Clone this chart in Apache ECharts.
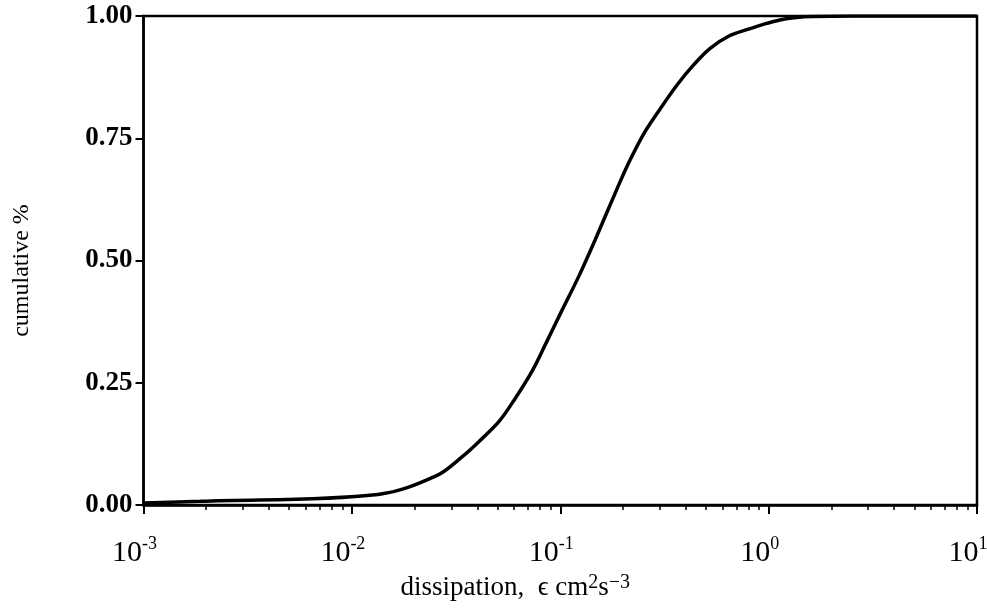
<!DOCTYPE html>
<html>
<head>
<meta charset="utf-8">
<script src="https://cdn.jsdelivr.net/npm/echarts@6/dist/echarts.min.js"></script>
<style>
  html, body { margin: 0; padding: 0; background: #fff; }
  #chart { width: 987px; height: 610px; }
</style>
</head>
<body>
<div id="chart"></div>
<script>
// dissipation (cm^2 s^-3)
const dissipation = [0.001, 0.00187, 0.01334, 0.0255, 0.0341, 0.041, 0.0511, 0.0612, 0.0735, 0.085, 0.1019,
  0.1222, 0.1466, 0.1888, 0.2104, 0.2523, 0.3027, 0.3635, 0.4365, 0.524, 0.652, 0.784, 0.943, 1.132, 1.36, 1.63, 2.5, 10]
const cumulative = [0.004, 0.0076, 0.0217, 0.06, 0.1, 0.131, 0.172, 0.22, 0.275, 0.329, 0.398,
  0.466, 0.541, 0.65, 0.695, 0.76, 0.811, 0.859, 0.9, 0.934, 0.96, 0.972, 0.983, 0.992, 0.997, 0.999, 1.0, 1.0]

const majorTicks = [0.001, 0.01, 0.1, 1, 10]
const minorTicks = [
  0.002, 0.003, 0.004, 0.005, 0.006, 0.007, 0.008, 0.009,
  0.02, 0.03, 0.04, 0.05, 0.06, 0.07, 0.08, 0.09,
  0.2, 0.3, 0.4, 0.5, 0.6, 0.7, 0.8, 0.9,
  2, 3, 4, 5, 6, 7, 8, 9
]
const yTicks = [0, 0.25, 0.5, 0.75, 1]

const serif = 'Liberation Serif, DejaVu Serif, serif'

const chart = echarts.init(document.getElementById('chart'))

const option = {
  animation: false,
  backgroundColor: '#fff',
  grid: {
    left: 143.5,
    right: 10,
    top: 16,
    bottom: 105,
    outerBoundsMode: 'none',
    containLabel: false,
    show: true,
    borderColor: '#000',
    borderWidth: 2.5,
  },
  xAxis: [
    {
      type: 'log',
      logBase: 10,
      min: 0.001,
      max: 10,
      position: 'bottom',
      axisLine: { show: true, lineStyle: { color: '#000', width: 2.5 } },
      axisTick: { show: true, customValues: majorTicks, length: 9, lineStyle: { color: '#000', width: 2 } },
      splitLine: { show: false },
      axisLabel: {
        customValues: majorTicks,
        margin: 30,
        padding: [0, 18, 0, 0],
        hideOverlap: false,
        formatter: (v) => '{b|10}{s|' + Math.round(Math.log10(v)) + '}',
        rich: {
          b: { fontFamily: serif, fontSize: 30, lineHeight: 36, color: '#000' },
          s: { fontFamily: serif, fontSize: 18, lineHeight: 18, verticalAlign: 'top', color: '#000' },
        },
      },
      name: '{t|dissipation,  \u03f5 cm}{s|2}{t|s}{s|\u22123}',
      nameLocation: 'middle',
      nameGap: 51,
      nameTextStyle: {
        padding: [0, 90, 0, 0],
        rich: {
          t: { fontFamily: serif, fontSize: 27, lineHeight: 31, color: '#000' },
          s: { fontFamily: serif, fontSize: 20, lineHeight: 20, verticalAlign: 'top', color: '#000' },
        },
      },
    },
    {
      type: 'log',
      logBase: 10,
      min: 0.001,
      max: 10,
      position: 'bottom',
      axisLine: { show: false },
      axisTick: { show: true, customValues: minorTicks, length: 5, lineStyle: { color: '#000', width: 1.5 } },
      axisLabel: { show: false },
      splitLine: { show: false },
    },
  ],
  yAxis: {
    type: 'value',
    min: 0,
    max: 1,
    interval: 0.25,
    axisLine: { show: true, lineStyle: { color: '#000', width: 2.5 } },
    axisTick: { show: true, length: 8, lineStyle: { color: '#000', width: 2 } },
    splitLine: { show: false },
    axisLabel: {
      margin: 11,
      fontFamily: serif,
      fontSize: 27,
      fontWeight: 'bold',
      color: '#000',
      formatter: (v) => v.toFixed(2),
    },
    name: 'cumulative %',
    nameLocation: 'middle',
    nameRotate: 90,
    nameGap: 110,
    nameTextStyle: {
      fontFamily: serif,
      fontSize: 24,
      color: '#000',
      padding: [0, 20, 0, 0],
    },
  },
  series: [
    {
      type: 'line',
      xAxisIndex: 0,
      data: dissipation.map((d, i) => [d, cumulative[i]]),
      showSymbol: false,
      smooth: 0.35,
      lineStyle: { color: '#000', width: 3.5 },
    },
  ],
}

chart.setOption(option)
</script>
</body>
</html>
